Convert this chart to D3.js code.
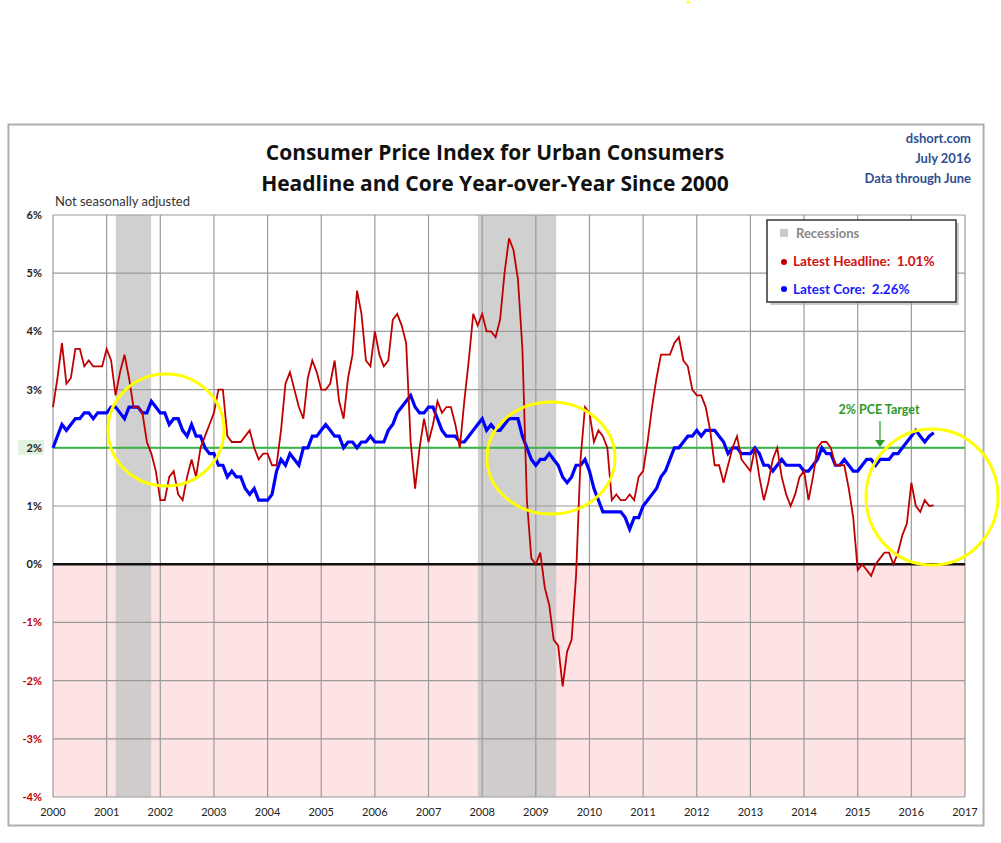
<!DOCTYPE html>
<html><head><meta charset="utf-8">
<script src="https://cdnjs.cloudflare.com/ajax/libs/d3/7.8.5/d3.min.js"></script>
<style>body{margin:0;background:#fff}svg{font-family:Lato,"Open Sans",sans-serif}</style>
</head><body><svg id="c" width="1001" height="843"></svg>
<script>
// monthly YoY % from Jan 2000 to Jun 2016
var headline = [
2.7,3.2,3.8,3.1,3.2,3.7,3.7,3.4,3.5,3.4,3.4,3.4,
3.7,3.5,2.9,3.3,3.6,3.2,2.7,2.7,2.6,2.1,1.9,1.6,
1.1,1.1,1.5,1.6,1.2,1.1,1.5,1.8,1.5,2.0,2.2,2.4,
2.6,3.0,3.0,2.2,2.1,2.1,2.1,2.2,2.3,2.0,1.8,1.9,
1.9,1.7,1.7,2.3,3.1,3.3,3.0,2.7,2.5,3.2,3.5,3.3,
3.0,3.0,3.1,3.5,2.8,2.5,3.2,3.6,4.7,4.3,3.5,3.4,
4.0,3.6,3.4,3.5,4.2,4.3,4.1,3.8,2.1,1.3,2.0,2.5,
2.1,2.4,2.8,2.6,2.7,2.7,2.4,2.0,2.8,3.5,4.3,4.1,
4.3,4.0,4.0,3.9,4.2,5.0,5.6,5.4,4.9,3.7,1.1,0.1,
0.0,0.2,-0.4,-0.7,-1.3,-1.4,-2.1,-1.5,-1.3,-0.2,1.8,2.7,
2.6,2.1,2.3,2.2,2.0,1.1,1.2,1.1,1.1,1.2,1.1,1.5,
1.6,2.1,2.7,3.2,3.6,3.6,3.6,3.8,3.9,3.5,3.4,3.0,
2.9,2.9,2.7,2.3,1.7,1.7,1.4,1.7,2.0,2.2,1.8,1.7,
1.6,2.0,1.5,1.1,1.4,1.8,2.0,1.5,1.2,1.0,1.2,1.5,
1.6,1.1,1.5,2.0,2.1,2.1,2.0,1.7,1.7,1.7,1.3,0.8,
-0.1,0.0,-0.1,-0.2,0.0,0.1,0.2,0.2,0.0,0.2,0.5,0.7,
1.4,1.0,0.9,1.1,1.0,1.01];
var core = [
2.0,2.2,2.4,2.3,2.4,2.5,2.5,2.6,2.6,2.5,2.6,2.6,
2.6,2.7,2.7,2.6,2.5,2.7,2.7,2.7,2.6,2.6,2.8,2.7,
2.6,2.6,2.4,2.5,2.5,2.3,2.2,2.4,2.2,2.2,2.0,1.9,
1.9,1.7,1.7,1.5,1.6,1.5,1.5,1.3,1.2,1.3,1.1,1.1,
1.1,1.2,1.6,1.8,1.7,1.9,1.8,1.7,2.0,2.0,2.2,2.2,
2.3,2.4,2.3,2.2,2.2,2.0,2.1,2.1,2.0,2.1,2.1,2.2,
2.1,2.1,2.1,2.3,2.4,2.6,2.7,2.8,2.9,2.7,2.6,2.6,
2.7,2.7,2.5,2.3,2.2,2.2,2.2,2.1,2.1,2.2,2.3,2.4,
2.5,2.3,2.4,2.3,2.3,2.4,2.5,2.5,2.5,2.2,2.0,1.8,
1.7,1.8,1.8,1.9,1.8,1.7,1.5,1.4,1.5,1.7,1.7,1.8,
1.6,1.3,1.1,0.9,0.9,0.9,0.9,0.9,0.8,0.6,0.8,0.8,
1.0,1.1,1.2,1.3,1.5,1.6,1.8,2.0,2.0,2.1,2.2,2.2,
2.3,2.2,2.3,2.3,2.3,2.2,2.1,1.9,2.0,2.0,1.9,1.9,
1.9,2.0,1.9,1.7,1.7,1.6,1.7,1.8,1.7,1.7,1.7,1.7,
1.6,1.6,1.7,1.8,2.0,1.9,1.9,1.7,1.7,1.8,1.7,1.6,
1.6,1.7,1.8,1.8,1.7,1.8,1.8,1.8,1.9,1.9,2.0,2.1,
2.2,2.3,2.2,2.1,2.2,2.26];
var recessions = [[2001.17, 2001.83], [2007.92, 2009.38]];
var years = d3.range(2000, 2018);
var yTicks = [-4, -3, -2, -1, 0, 1, 2, 3, 4, 5, 6];
var target = 2;

var svg = d3.select("#c");
var x = d3.scaleLinear().domain([2000, 2017]).range([53, 965]);
var y = d3.scaleLinear().domain([-4, 6]).range([797, 215]);
var t = i => 2000 + i / 12;

// outer frame
svg.append("rect").attr("x", 8.5).attr("y", 124.5).attr("width", 975).attr("height", 701)
  .attr("fill", "#fff").attr("stroke", "#b0b0b0").attr("stroke-width", 2);

// negative zone
svg.append("rect").attr("x", x(2000)).attr("y", y(0)).attr("width", x(2017) - x(2000))
  .attr("height", y(-4) - y(0)).attr("fill", "#fde3e4");

// recessions
svg.selectAll(".rec").data(recessions).enter().append("rect")
  .attr("x", d => x(d[0])).attr("width", d => x(d[1]) - x(d[0]))
  .attr("y", y(6)).attr("height", y(-4) - y(6)).attr("fill", "#c8c8c8").attr("opacity", 0.85);

// grid
svg.selectAll(".gy").data(yTicks).enter().append("line")
  .attr("x1", x(2000)).attr("x2", x(2017)).attr("y1", d => y(d)).attr("y2", d => y(d))
  .attr("stroke", "#9a9a9a").attr("stroke-width", 1.2);
svg.selectAll(".gx").data(years).enter().append("line")
  .attr("x1", d => x(d)).attr("x2", d => x(d)).attr("y1", y(6)).attr("y2", y(-4))
  .attr("stroke", "#9a9a9a").attr("stroke-width", 1.2);

// zero and target lines
svg.append("line").attr("x1", x(2000)).attr("x2", x(2017)).attr("y1", y(0)).attr("y2", y(0))
  .attr("stroke", "#111").attr("stroke-width", 2.5);
svg.append("line").attr("x1", x(2000)).attr("x2", x(2017)).attr("y1", y(target)).attr("y2", y(target))
  .attr("stroke", "#3cb44b").attr("stroke-width", 2);

// tick labels
svg.append("rect").attr("x", 18).attr("y", y(target) - 8).attr("width", 26).attr("height", 15).attr("fill", "#dff3df");
svg.selectAll(".yl").data(yTicks).enter().append("text")
  .attr("x", 42).attr("y", d => y(d) + 4).attr("text-anchor", "end")
  .attr("font-size", 11).attr("font-weight", "bold")
  .attr("fill", d => d < 0 ? "#c00000" : "#222").text(d => d + "%");
svg.selectAll(".xl").data(years).enter().append("text")
  .attr("x", d => x(d)).attr("y", 816).attr("text-anchor", "middle")
  .attr("font-size", 11).attr("fill", "#222").text(d => d);

// series lines
var line = d3.line().x((d, i) => x(t(i))).y(d => y(d));
svg.append("path").datum(core).attr("d", line).attr("fill", "none")
  .attr("stroke", "#0000ff").attr("stroke-width", 3.2);
svg.append("path").datum(headline).attr("d", line).attr("fill", "none")
  .attr("stroke", "#c00000").attr("stroke-width", 1.8);

// titles
svg.append("text").attr("x", 495).attr("y", 160).attr("text-anchor", "middle").attr("font-family", "Open Sans")
  .attr("font-size", 21).attr("font-weight", "bold").attr("fill", "#111").text("Consumer Price Index for Urban Consumers");
svg.append("text").attr("x", 495).attr("y", 191).attr("text-anchor", "middle").attr("font-family", "Open Sans")
  .attr("font-size", 21).attr("font-weight", "bold").attr("fill", "#111").text("Headline and Core Year-over-Year Since 2000");
svg.append("text").attr("x", 55).attr("y", 206).attr("font-size", 13).attr("fill", "#333").text("Not seasonally adjusted");
["dshort.com", "July 2016", "Data through June"].forEach(function(s, i) {
  svg.append("text").attr("x", 971).attr("y", 143 + i * 20).attr("text-anchor", "end")
    .attr("font-size", 13).attr("font-weight", "bold").attr("fill", "#2f4f8f").text(s);
});

// legend
var lg = svg.append("g").attr("transform", "translate(767,220)");
lg.append("rect").attr("x", 3).attr("y", 3).attr("width", 189).attr("height", 82).attr("fill", "#999").attr("opacity", 0.5);
lg.append("rect").attr("width", 189).attr("height", 82).attr("fill", "#fff").attr("stroke", "#333").attr("stroke-width", 1.5);
lg.append("rect").attr("x", 13).attr("y", 9).attr("width", 8).attr("height", 8).attr("fill", "#c8c8c8");
lg.append("text").attr("x", 29).attr("y", 18).attr("font-size", 13).attr("font-weight", "bold").attr("fill", "#888").text("Recessions");
lg.append("circle").attr("cx", 17).attr("cy", 42).attr("r", 3).attr("fill", "#c00000");
lg.append("text").attr("x", 26).attr("y", 46).attr("font-size", 13.5).attr("font-weight", "bold").attr("fill", "#d01010")
  .attr("xml:space", "preserve").text("Latest Headline:  " + headline[headline.length - 1].toFixed(2) + "%");
lg.append("circle").attr("cx", 17).attr("cy", 69).attr("r", 3).attr("fill", "#0000ff");
lg.append("text").attr("x", 26).attr("y", 74).attr("font-size", 13.5).attr("font-weight", "bold").attr("fill", "#1a1aff")
  .attr("xml:space", "preserve").text("Latest Core:  " + core[core.length - 1].toFixed(2) + "%");

// target annotation
svg.append("text").attr("x", 879).attr("y", 414).attr("text-anchor", "middle")
  .attr("font-size", 12.5).attr("font-weight", "bold").attr("fill", "#2a9a2a").text("2% PCE Target");
svg.append("line").attr("x1", 880).attr("x2", 880).attr("y1", 421).attr("y2", 441).attr("stroke", "#2a9a2a").attr("stroke-width", 1.2);
svg.append("path").attr("d", "M875,440 L885,440 L880,447 Z").attr("fill", "#2a9a2a");

// hand-drawn yellow circles
var marks = [[166, 430, 58, 56], [551, 458, 64, 56], [932, 497, 66, 68]];
svg.selectAll(".ym").data(marks).enter().append("ellipse")
  .attr("cx", d => d[0]).attr("cy", d => d[1]).attr("rx", d => d[2]).attr("ry", d => d[3])
  .attr("fill", "none").attr("stroke", "#ffff00").attr("stroke-width", 3);
svg.append("circle").attr("cx", 688).attr("cy", 2).attr("r", 1.5).attr("fill", "#ffff00");
</script></body></html>
